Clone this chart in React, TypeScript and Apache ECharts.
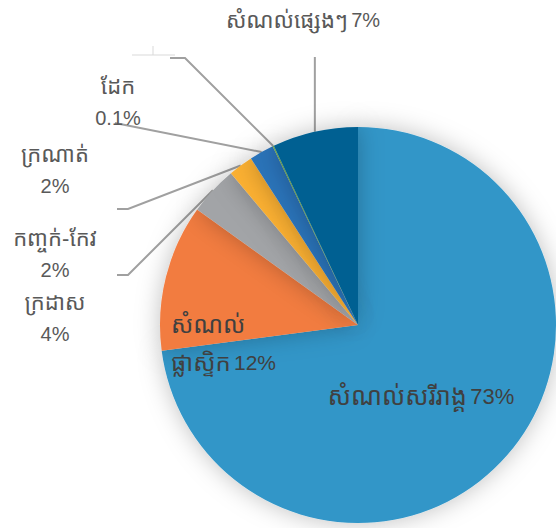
import React, { useEffect, useRef } from "react";
import * as echarts from "echarts";

const categories = [
  "សំណល់សរីរាង្គ",
  "សំណល់ផ្លាស្ទិក",
  "ក្រដាស",
  "កញ្ចក់-កែវ",
  "ក្រណាត់",
  "ដែក",
  "សំណល់ផ្សេងៗ",
];
const values = [73, 12, 4, 2, 2, 0.1, 7];
// label pieces: Khmer name lines, percentage text, whether percent is on its own line
const labelNameLines = [
  ["សំណល់សរីរាង្គ"],
  ["សំណល់", "ផ្លាស្ទិក"],
  ["ក្រដាស"],
  ["កញ្ចក់-កែវ"],
  ["ក្រណាត់"],
  ["ដែក"],
  ["សំណល់ផ្សេងៗ"],
];
const percentTexts = ["73%", "12%", "4%", "2%", "2%", "0.1%", "7%"];
const percentOwnLine = [false, false, true, true, true, true, false];
const colors = ["#3196c8", "#f27c41", "#a2a4a7", "#fbb033", "#2c73b9", "#70ad47", "#046192"];

const FONT = "'Liberation Sans', 'Noto Sans Khmer', sans-serif";

export default function App() {
  const ref = useRef<HTMLDivElement>(null);
  useEffect(() => {
    if (!ref.current) return;
    const chart = echarts.init(ref.current, undefined, { renderer: "svg" });
    const inside = [0, 1];
    const labelPos: Record<number, any> = {
      0: { x: 421, y: 396, align: "center" },
      1: { x: 171, y: 343, align: "left" },
      2: { x: 55, y: 318, align: "center", line: [[128, 275], [117, 275]] },
      3: { x: 55, y: 254, align: "center", line: [[128, 209], [117, 209]] },
      4: { x: 55, y: 170, align: "center", line: [[115, 123], [115, 123]] },
      5: { x: 118, y: 102, align: "center", line: [[185, 58], [170, 58]] },
      6: { x: 303, y: 20, align: "center", line: null },
    };
    const fmt = (i: number) => {
      const names = labelNameLines[i].map((s) => `{k|${s}}`);
      if (percentOwnLine[i]) return names.join("\n") + `\n{n|${percentTexts[i]}}`;
      const last = names.length - 1;
      names[last] = names[last] + ` {n|${percentTexts[i]}}`;
      return names.join("\n");
    };
    const richOut = {
      k: { fontFamily: FONT, fontSize: 22, lineHeight: 31, color: "#595959" },
      n: { fontFamily: FONT, fontSize: 20, lineHeight: 31, color: "#595959" },
    };
    const richIn = (big: boolean) => ({
      k: { fontFamily: FONT, fontSize: big ? 25 : 24, lineHeight: 38, color: "#404040" },
      n: { fontFamily: FONT, fontSize: big ? 22 : 21, lineHeight: 38, color: "#404040" },
    });
    chart.setOption({
      animation: false,
      backgroundColor: "#ffffff",
      graphic: [
        { type: "line", shape: { x1: 132, y1: 55, x2: 175, y2: 55 }, style: { stroke: "#d9d9d9", lineWidth: 1 } },
        { type: "line", shape: { x1: 153, y1: 46, x2: 153, y2: 55 }, style: { stroke: "#d9d9d9", lineWidth: 1 } },
      ],
      series: [
        {
          type: "pie",
          center: [358, 325],
          radius: 198,
          startAngle: 90,
          clockwise: true,
          avoidLabelOverlap: false,
          itemStyle: {
            borderWidth: 0,
            shadowBlur: 25,
            shadowColor: "rgba(0,0,0,0.25)",
          },
          label: {
            show: true,
            position: "outside",
            fontFamily: FONT,
            color: "#595959",
            formatter: (p: any) => fmt(p.dataIndex),
            rich: richOut,
          },
          labelLine: {
            show: true,
            lineStyle: { color: "#a0a0a0", width: 2 },
            length: 10,
            length2: 10,
          },
          labelLayout: (params: any) => {
            const i = params.dataIndex;
            const lp = labelPos[i];
            const res: any = {
              x: lp.x,
              y: lp.y,
              align: lp.align,
              verticalAlign: "middle",
            };
            if (!inside.includes(i) && params.labelLinePoints) {
              const p0 = params.labelLinePoints[0];
              if (lp.line) {
                res.labelLinePoints = [p0, lp.line[0], lp.line[1]];
              } else {
                res.labelLinePoints = [p0, [p0[0], 57], [p0[0], 57]];
              }
            }
            return res;
          },
          data: categories.map((name, i) => ({
            name,
            value: values[i],
            itemStyle: { color: colors[i] },
            label: inside.includes(i)
              ? { position: "inside", rich: richIn(i === 0) }
              : undefined,
            labelLine: inside.includes(i) ? { show: false } : undefined,
          })),
        },
      ],
    });
    return () => chart.dispose();
  }, []);
  return (
    <div
      ref={ref}
      style={{ position: "absolute", left: 0, top: 0, width: 556, height: 528 }}
    />
  );
}
